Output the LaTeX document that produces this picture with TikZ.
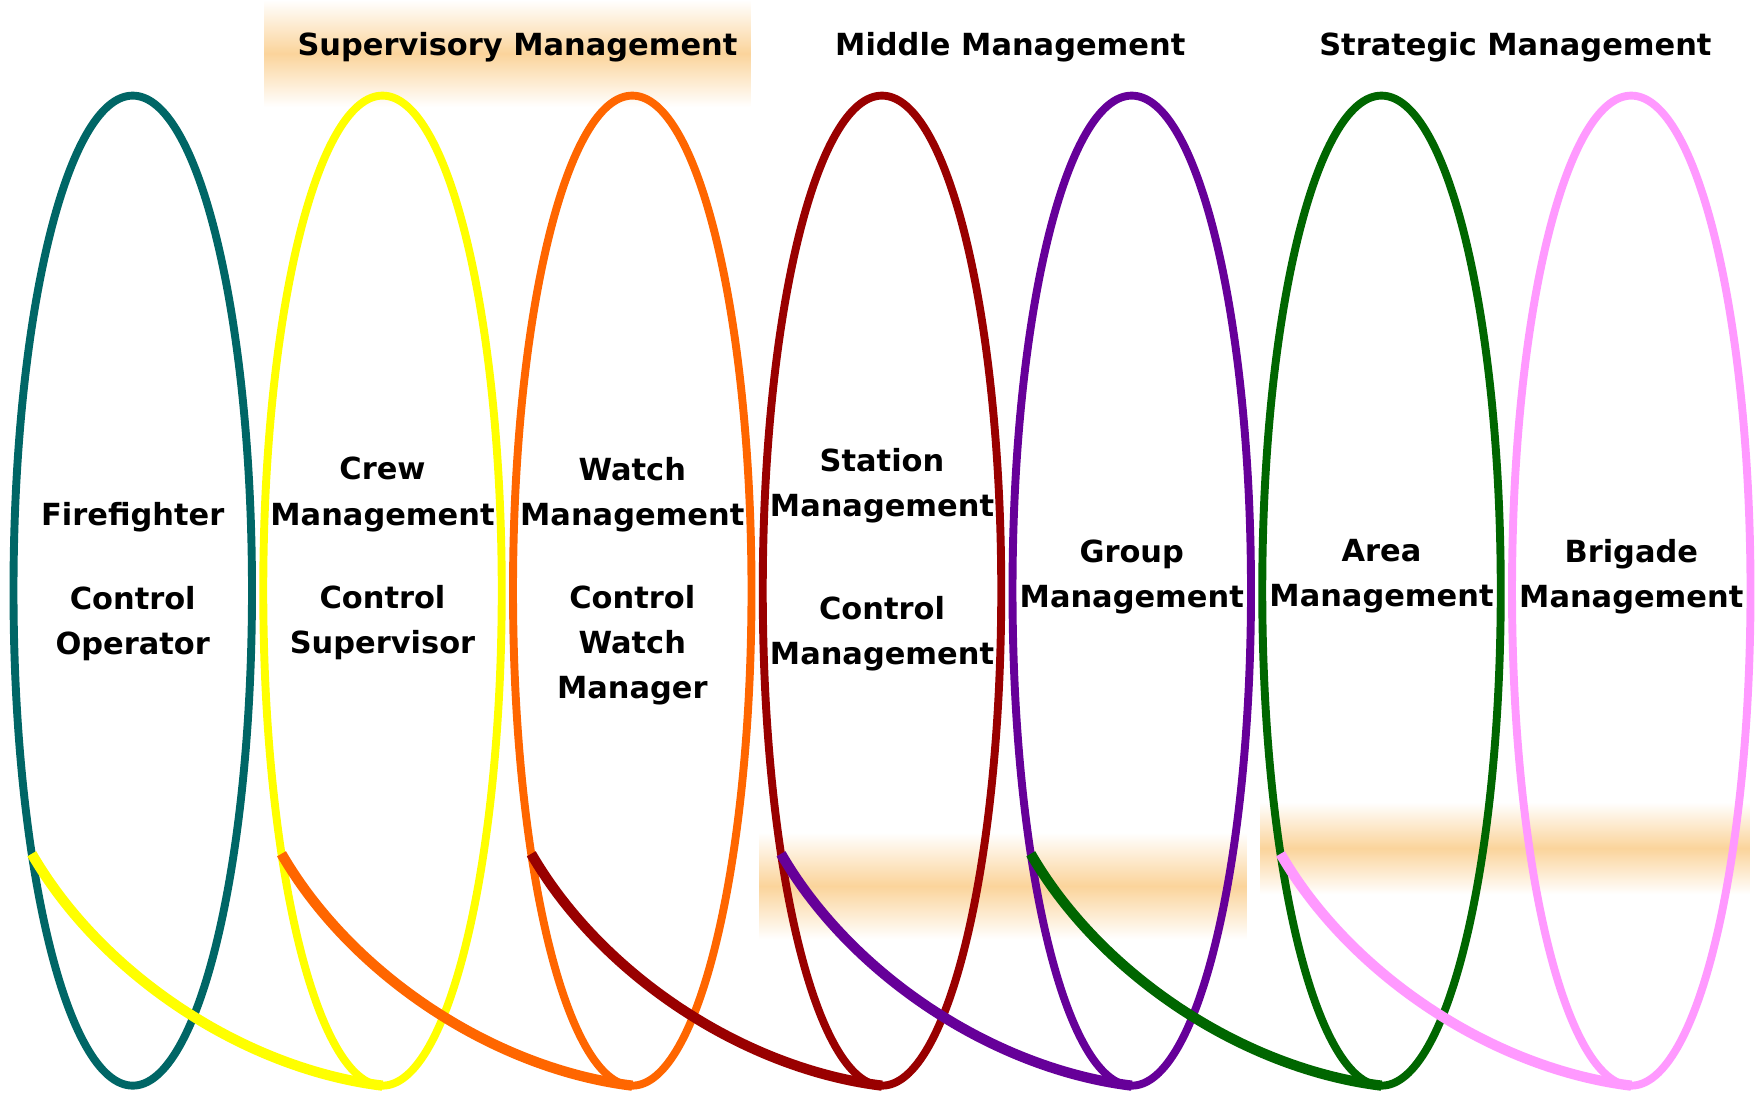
\documentclass[tikz,border=0pt]{standalone}
\usepackage{fontspec}
\setmainfont{DejaVu Sans}
\definecolor{teal1}{RGB}{0, 102, 102}
\definecolor{yellow1}{RGB}{255, 255, 0}
\definecolor{orange1}{RGB}{255, 102, 0}
\definecolor{red1}{RGB}{153, 0, 0}
\definecolor{purple1}{RGB}{102, 0, 153}
\definecolor{green1}{RGB}{0, 102, 0}
\definecolor{pink1}{RGB}{255, 153, 255}
\definecolor{glow}{RGB}{251, 212, 155}
\usetikzlibrary{shapes.geometric, positioning, calc}

\begin{document}
\begin{tikzpicture}[
  ring/.style={draw, ellipse, minimum width=2.12cm, minimum height=8.8cm, inner sep=0pt, outer sep=0pt, line width=2pt},
  tie/.style={line width=2.6pt},
  swoop/.style={out=-60, in=173, looseness=0.85},
  lbl/.style={align=center, font=\fontsize{7.7}{11.4}\selectfont\bfseries},
  band/.style={top color=white, bottom color=white, middle color=glow}
]
  \useasboundingbox (0,0) rectangle (15.68,9.75);

  % Glow bands
  \shade[band] (2.35,8.80) rectangle (6.67,9.75);
  \shade[band] (6.75,1.40) rectangle (11.08,2.35);
  \shade[band] (11.20,1.80) rectangle (15.55,2.62);

  % Level headings
  \node[lbl] (sup) at (4.60,9.33) {Supervisory Management};
  \node[lbl] (mid) at (8.98,9.33) {Middle Management};
  \node[lbl] (strat) at (13.47,9.33) {Strategic Management};

  % Rings
  \node[ring, teal1] (ff) at (1.18,4.50) {};
  \node[ring, yellow1, right=1mm of ff] (crew) {};
  \node[ring, orange1, right=1mm of crew] (watch) {};
  \node[ring, red1, right=1mm of watch] (station) {};
  \node[ring, purple1, right=1mm of station] (group) {};
  \node[ring, green1, right=1mm of group] (area) {};
  \node[ring, pink1, right=1mm of area] (brigade) {};

  % Ring labels
  \node[lbl] (fflbl) at ([yshift=0.08cm]ff.center) {Firefighter\\[0.34cm]Control\\Operator};
  \node[lbl] (crewlbl) at ([yshift=0.285cm]crew.center) {Crew\\Management\\[0.34cm]Control\\Supervisor};
  \node[lbl] (watchlbl) at ([yshift=0.085cm]watch.center) {Watch\\Management\\[0.34cm]Control\\Watch\\Manager};
  \node[lbl] (stationlbl) at ([yshift=0.275cm]station.center) {Station\\Management\\[0.51cm]Control\\Management};
  \node[lbl] (grouplbl) at ([yshift=0.125cm]group.center) {Group\\Management};
  \node[lbl] (arealbl) at ([yshift=0.125cm]area.center) {Area\\Management};
  \node[lbl] (brigadelbl) at ([yshift=0.125cm]brigade.center) {Brigade\\Management};

  % Links to the next level
  \draw[tie, yellow1] (ff.249) to[swoop] (crew.south);
  \draw[tie, orange1] (crew.249) to[swoop] (watch.south);
  \draw[tie, red1] (watch.249) to[swoop] (station.south);
  \draw[tie, purple1] (station.249) to[swoop] (group.south);
  \draw[tie, green1] (group.249) to[swoop] (area.south);
  \draw[tie, pink1] (area.249) to[swoop] (brigade.south);
\end{tikzpicture}
\end{document}
